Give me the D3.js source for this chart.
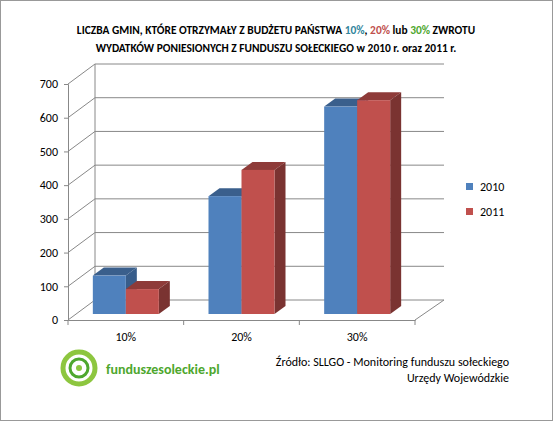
<!DOCTYPE html><html><head><meta charset="utf-8"><script src="https://cdn.jsdelivr.net/npm/d3@7"></script>
<style>body{margin:0;background:#fff}text{font-family:Calibri,Carlito,"Liberation Sans",sans-serif}</style></head><body>
<svg id="c" width="553" height="421"></svg>
<script>
const categories=["10%","20%","30%"];
const series=["2010","2011"];
const values2010=[114,350,616];
const values2011=[74,428,635];
const yTicks=[0,100,200,300,400,500,600,700];
const colors=["#4F81BD","#C0504D"],tops=["#3A5F8C","#8E3B39"],sides=["#385D8A","#7A3331"];
const svg=d3.select("#c");
svg.append("rect").attr("x",0.5).attr("y",0.5).attr("width",552).attr("height",420).attr("fill","#fff").attr("stroke","#999");
const t=svg.append("text").attr("x",276).attr("y",34).attr("text-anchor","middle").attr("font-size",11.4).attr("font-weight","bold");
[["LICZBA GMIN, KTÓRE OTRZYMAŁY Z BUDŻETU PAŃSTWA ","#000"],["10%","#31859C"],[", ","#000"],["20%","#C0504D"],[" lub ","#000"],["30%","#4EA72E"],[" ZWROTU","#000"]].forEach(([s,c])=>t.append("tspan").attr("fill",c).text(s));
svg.append("text").attr("x",276).attr("y",52).attr("text-anchor","middle").attr("font-size",11.4).attr("font-weight","bold").text("WYDATKÓW PONIESIONYCH Z FUNDUSZU SOŁECKIEGO w 2010 r. oraz 2011 r.");
const dx=27,dy=-20;
const yF=d3.scaleLinear().domain([0,700]).range([320,84]);
const x=d3.scaleBand().domain(categories).range([68,415]);
const g=svg.append("g");
yTicks.forEach(v=>{const y=yF(v);
 g.append("line").attr("x1",68).attr("y1",y).attr("x2",68+dx).attr("y2",y+dy).attr("stroke","#888");
 g.append("line").attr("x1",68+dx).attr("y1",y+dy).attr("x2",444).attr("y2",y+dy).attr("stroke","#888");
});
g.append("line").attr("x1",68+dx).attr("y1",yF(0)+dy).attr("x2",68+dx).attr("y2",yF(700)+dy).attr("stroke","#888");
g.append("line").attr("x1",415).attr("y1",320).attr("x2",444).attr("y2",300).attr("stroke","#888");
const ax=svg.append("g").attr("transform","translate(68,0)").call(d3.axisLeft(yF).tickValues(yTicks).tickSize(4).tickPadding(6));
ax.select(".domain").attr("stroke","#888");ax.selectAll("line").attr("stroke","#888");ax.selectAll("text").attr("font-size",12).attr("font-family","Calibri,Carlito,'Liberation Sans',sans-serif");
const xa=svg.append("g").attr("transform","translate(0,320)").call(d3.axisBottom(x).tickSize(0).tickPadding(12));
xa.select(".domain").attr("stroke","#888");xa.selectAll("text").attr("font-size",12).attr("font-family","Calibri,Carlito,'Liberation Sans',sans-serif");
categories.concat([null]).forEach((c,i)=>svg.append("line").attr("x1",68+i*x.step()).attr("x2",68+i*x.step()).attr("y1",320).attr("y2",325).attr("stroke","#888"));
const yB=d3.scaleLinear().domain([0,700]).range([314,314-7*33.67]);
const bw=33,ox=11,oy=-8;
[values2010,values2011].forEach((vals,s)=>{
 vals.forEach((v,i)=>{
  const x0=x(categories[i])+x.bandwidth()/2-bw+s*bw,y0=yB(v),yb=yB(0);
  g.append("polygon").attr("points",`${x0},${y0} ${x0+ox},${y0+oy} ${x0+bw+ox},${y0+oy} ${x0+bw},${y0}`).attr("fill",tops[s]);
  g.append("polygon").attr("points",`${x0+bw},${y0} ${x0+bw+ox},${y0+oy} ${x0+bw+ox},${yb+oy} ${x0+bw},${yb}`).attr("fill",sides[s]);
  g.append("rect").attr("x",x0).attr("y",y0).attr("width",bw).attr("height",yb-y0).attr("fill",colors[s]);
 });
});
series.forEach((s,i)=>{const y=187+i*25;
 svg.append("rect").attr("x",466).attr("y",y-4).attr("width",7).attr("height",7).attr("fill",colors[i]);
 svg.append("text").attr("x",480).attr("y",y+4).attr("font-size",12).text(s);
});
const lg=svg.append("g").attr("transform","translate(79,368)");
lg.append("circle").attr("r",16).attr("fill","none").attr("stroke","#8DC63F").attr("stroke-width",5);
lg.append("circle").attr("r",9).attr("fill","none").attr("stroke","#4EA72E").attr("stroke-width",3);
lg.append("circle").attr("r",3).attr("fill","#8DC63F");
svg.append("text").attr("x",106).attr("y",374).attr("font-size",14).attr("font-weight","bold").attr("fill","#4EA72E").text("funduszesoleckie.pl");
svg.append("text").attr("x",509).attr("y",366).attr("text-anchor","end").attr("font-size",12).text("Źródło: SLLGO - Monitoring funduszu sołeckiego");
svg.append("text").attr("x",509).attr("y",382).attr("text-anchor","end").attr("font-size",12).text("Urzędy Wojewódzkie");
</script></body></html>
